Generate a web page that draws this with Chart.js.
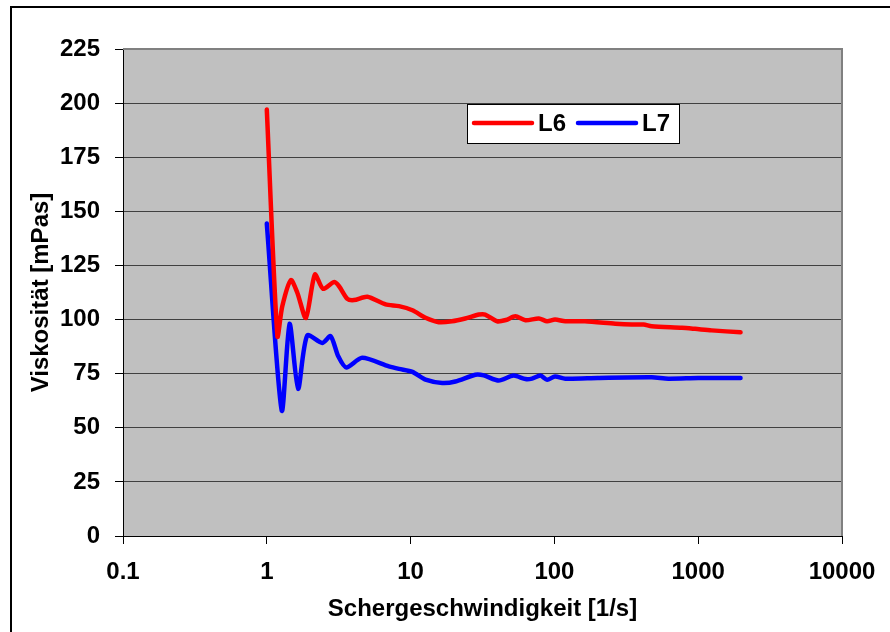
<!DOCTYPE html>
<html>
<head>
<meta charset="utf-8">
<script src="https://cdn.jsdelivr.net/npm/chart.js@4/dist/chart.umd.min.js"></script>
<style>
    html, body { margin: 0; padding: 0; background: #fff; overflow: hidden; }
    #wrap { position: relative; width: 890px; height: 632px; }
    #frame { position: absolute; left: 10px; top: 6px; width: 1000px; height: 1000px; border: 2px solid #000; box-sizing: border-box; }
    #chart { position: absolute; left: 0; top: 0; }
</style>
</head>
<body>
<div id="wrap">
    <div id="frame"></div>
    <canvas id="chart" width="890" height="632"></canvas>
</div>
<script>
// Schergeschwindigkeit [1/s] / Viskosität [mPas]
const l6Rate = [1, 1.185, 1.28, 1.47, 1.63, 1.87, 2.16, 2.46, 2.93, 3.18, 3.63, 4.04, 5.0, 6.7, 8.3, 10.3, 12.7, 15.7, 19.4, 24, 29.9, 33, 40, 46, 53.5, 62.9, 78, 89, 101, 119, 163, 265, 346, 417, 475, 771, 950, 1240, 1970];
const l6Visc = [197, 92.3, 106, 118.2, 112.4, 100.8, 120.8, 114.2, 117.3, 115.4, 109.6, 109, 110.5, 107, 106.2, 104.3, 100.8, 98.8, 99.2, 100.5, 102.3, 102.3, 99.2, 99.8, 101.5, 99.7, 100.5, 99.2, 100, 99.2, 99.2, 98.1, 97.7, 97.7, 96.9, 96.2, 95.7, 95, 94.1];

const l7Rate = [1, 1.27, 1.44, 1.65, 1.91, 2.43, 2.78, 3.14, 3.57, 4.6, 7.06, 8.3, 10.3, 12.7, 16.6, 20.5, 28.2, 32.3, 41, 52, 63, 69.8, 80, 89, 101, 119, 200, 475, 620, 1000, 1970];
const l7Visc = [144.4, 58, 98, 68, 92.6, 89.2, 92.3, 83, 77.9, 82.3, 78.4, 77.2, 75.8, 72.2, 70.7, 71.4, 74.5, 74.2, 71.8, 74.1, 72.5, 72.7, 74.1, 72.2, 73.7, 72.7, 73, 73.3, 72.7, 73, 73];

const xTicks = [0.1, 1, 10, 100, 1000, 10000];
const yMin = 0, yMax = 225, yStep = 25;

const FONT = 'Liberation Sans, Arial, sans-serif';

const toPoints = (xs, ys) => xs.map((x, i) => ({ x, y: ys[i] }));

// grey plot area, outer border, legend box
const plotDeco = {
    id: 'plotDeco',
    beforeDraw(chart) {
        const { ctx, chartArea: a } = chart;
        ctx.save();
        ctx.fillStyle = '#c0c0c0';
        ctx.fillRect(a.left, a.top, a.right - a.left, a.bottom - a.top);
        ctx.restore();
    },
    beforeDatasetsDraw(chart) {
        const { ctx, chartArea: a } = chart;
        ctx.save();
        ctx.strokeStyle = '#808080';
        ctx.lineWidth = 2;
        ctx.beginPath();
        ctx.moveTo(a.left, a.top);
        ctx.lineTo(a.right, a.top);
        ctx.lineTo(a.right, a.bottom);
        ctx.stroke();
        ctx.restore();
    },
    afterDraw(chart) {
        const { ctx, chartArea: a } = chart;
        const bx = a.left + 344, by = a.top + 55, bw = 212, bh = 39;
        ctx.save();
        ctx.fillStyle = '#fff';
        ctx.fillRect(bx, by, bw, bh);
        ctx.strokeStyle = '#000';
        ctx.lineWidth = 1;
        ctx.strokeRect(bx + 0.5, by + 0.5, bw, bh);
        ctx.font = 'bold 24px ' + FONT;
        ctx.textBaseline = 'middle';
        ctx.fillStyle = '#000';
        ctx.lineCap = 'round';
        ctx.lineWidth = 4.5;
        chart.data.datasets.forEach((ds, i) => {
            const x0 = bx + 7 + i * 104;
            const cy = by + 19;
            ctx.strokeStyle = ds.borderColor;
            ctx.beginPath();
            ctx.moveTo(x0, cy);
            ctx.lineTo(x0 + 58, cy);
            ctx.stroke();
            ctx.fillText(ds.label, x0 + 64, cy + 1);
        });
        ctx.restore();
    }
};

new Chart(document.getElementById('chart'), {
    type: 'line',
    data: {
        datasets: [
            {
                label: 'L6',
                data: toPoints(l6Rate, l6Visc),
                borderColor: '#ff0000',
                borderWidth: 4.5,
                pointRadius: 0,
                tension: 0.25,
                borderCapStyle: 'round',
                borderJoinStyle: 'round'
            },
            {
                label: 'L7',
                data: toPoints(l7Rate, l7Visc),
                borderColor: '#0000ff',
                borderWidth: 4.5,
                pointRadius: 0,
                tension: 0.25,
                borderCapStyle: 'round',
                borderJoinStyle: 'round'
            }
        ]
    },
    options: {
        responsive: false,
        animation: false,
        layout: { padding: { top: 49, right: 48, bottom: 0, left: 0 } },
        plugins: {
            legend: { display: false },
            tooltip: { enabled: false }
        },
        scales: {
            x: {
                type: 'logarithmic',
                min: xTicks[0],
                max: xTicks[xTicks.length - 1],
                afterBuildTicks: scale => {
                    scale.ticks = xTicks.map(v => ({ value: v }));
                },
                afterFit: scale => { scale.height = 96; },
                ticks: {
                    color: '#000',
                    font: { family: FONT, size: 24, weight: 'bold' },
                    padding: 14,
                    maxRotation: 0,
                    autoSkip: false,
                    callback: v => String(v)
                },
                grid: {
                    drawOnChartArea: false,
                    drawTicks: true,
                    tickLength: 8,
                    tickColor: '#000',
                    tickWidth: 1
                },
                border: { color: '#000', width: 1 },
                title: {
                    display: true,
                    text: 'Schergeschwindigkeit [1/s]',
                    color: '#000',
                    font: { family: FONT, size: 24, weight: 'bold' },
                    padding: { top: 0, bottom: 8 }
                }
            },
            y: {
                min: yMin,
                max: yMax,
                afterFit: scale => { scale.width = 123; },
                ticks: {
                    stepSize: yStep,
                    color: '#000',
                    font: { family: FONT, size: 24, weight: 'bold' },
                    padding: 15
                },
                grid: {
                    color: '#404040',
                    lineWidth: 1,
                    drawTicks: true,
                    tickLength: 8,
                    tickColor: '#000',
                    tickWidth: 1
                },
                border: { color: '#000', width: 1 },
                title: {
                    display: true,
                    text: 'Viskosität [mPas]',
                    color: '#000',
                    font: { family: FONT, size: 24, weight: 'bold' },
                    padding: { top: 27, bottom: 0 }
                }
            }
        }
    },
    plugins: [plotDeco]
});
</script>
</body>
</html>
